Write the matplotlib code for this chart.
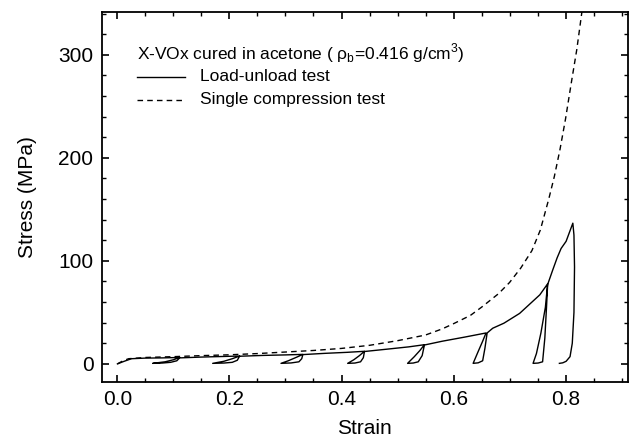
import matplotlib
matplotlib.use("Agg")
import matplotlib.pyplot as plt
from matplotlib.lines import Line2D
from matplotlib.ticker import MultipleLocator

plt.rcParams["font.family"] = ["Liberation Sans", "DejaVu Sans"]
plt.rcParams["mathtext.fontset"] = "custom"
plt.rcParams["mathtext.rm"] = "Liberation Sans"

# single compression test (dashed)
single_strain = [0.0, 0.01, 0.02, 0.05, 0.1, 0.15, 0.2, 0.25, 0.3, 0.35, 0.4, 0.45,
                 0.5, 0.55, 0.58, 0.6, 0.63, 0.65, 0.68, 0.7, 0.72, 0.74, 0.755,
                 0.77, 0.78, 0.79, 0.80, 0.81, 0.82, 0.83]
single_stress = [0.0, 3.0, 5.0, 6.2, 7.0, 8.0, 8.8, 10.0, 11.5, 13.0, 15.0, 18.0,
                 22.5, 28.0, 34.0, 39.0, 47.0, 55.0, 68.0, 79.0, 93.0, 110.0, 130.0,
                 160.0, 182.0, 208.0, 238.0, 272.0, 305.0, 345.0]

# load-unload test (solid), points in drawing order
cycle_strain = [0.0, 0.012, 0.025, 0.05, 0.08, 0.111,
                0.10, 0.085, 0.063, 0.08, 0.095, 0.106, 0.111,
                0.15, 0.19, 0.218,
                0.205, 0.19, 0.170, 0.19, 0.205, 0.214, 0.218,
                0.26, 0.30, 0.331,
                0.32, 0.305, 0.292, 0.31, 0.324, 0.329, 0.331,
                0.37, 0.41, 0.441,
                0.432, 0.422, 0.411, 0.424, 0.434, 0.439, 0.441,
                0.48, 0.52, 0.548,
                0.54, 0.53, 0.518, 0.528, 0.537, 0.544, 0.548,
                0.58, 0.62, 0.658,
                0.652, 0.644, 0.635, 0.644, 0.652, 0.656, 0.66,
                0.67, 0.69, 0.718, 0.74, 0.754, 0.768,
                0.764, 0.756, 0.748, 0.742, 0.751, 0.759, 0.763, 0.766, 0.768,
                0.777, 0.785, 0.792, 0.801, 0.813,
                0.815, 0.816, 0.815, 0.812, 0.808, 0.801, 0.795, 0.789]
cycle_stress = [0.0, 2.5, 5.0, 5.6, 5.8, 6.2,
                4.0, 2.0, 0.5, 0.8, 1.5, 3.0, 5.8,
                6.6, 7.2, 7.6,
                5.0, 2.5, 0.5, 0.8, 1.5, 3.5, 7.4,
                8.2, 8.7, 9.2,
                6.5, 3.0, 0.5, 0.9, 2.0, 5.0, 9.0,
                10.2, 11.2, 12.2,
                8.0, 4.0, 0.5, 0.8, 2.0, 6.0, 12.0,
                14.2, 16.5, 18.6,
                13.0, 7.0, 0.5, 0.8, 2.0, 8.0, 18.3,
                22.0, 26.0, 30.0,
                22.0, 12.0, 0.5, 1.0, 3.0, 15.0, 30.0,
                34.6, 39.5, 49.0, 60.0, 67.0, 77.7,
                55.0, 30.0, 10.0, 0.5, 0.8, 2.0, 25.0, 55.0, 77.0,
                91.0, 103.0, 112.0, 119.0, 136.6,
                125.0, 94.0, 50.0, 20.0, 7.0, 2.5, 1.0, 0.5]

legend_title = "X-VOx cured in acetone ( \u03c1$_\\mathrm{b}$=0.416 g/cm$^3$)"
legend_labels = ["Load-unload test", "Single compression test"]

fig = plt.figure(figsize=(6.36, 4.42), dpi=100)
ax = fig.add_axes([0.160, 0.136, 0.827, 0.837])

ax.plot(cycle_strain, cycle_stress, color="black", lw=1.0)
ax.plot(single_strain, single_stress, color="black", lw=1.0, dashes=(4, 3))

ax.set_xlim(-0.028, 0.911)
ax.set_ylim(-17.5, 341.7)
ax.xaxis.set_major_locator(MultipleLocator(0.2))
ax.xaxis.set_minor_locator(MultipleLocator(0.05))
ax.yaxis.set_major_locator(MultipleLocator(100))
ax.yaxis.set_minor_locator(MultipleLocator(20))
ax.xaxis.set_major_formatter(plt.FuncFormatter(lambda v, p: f"{v:.1f}"))
ax.tick_params(which="both", direction="in", top=True, right=True, labelsize=15)
ax.tick_params(which="major", length=5, width=1.2, pad=6)
ax.tick_params(which="minor", length=3, width=1.0)
for s in ax.spines.values():
    s.set_linewidth(1.3)

ax.set_xlabel("Strain", fontsize=15, labelpad=7)
ax.set_ylabel("Stress (MPa)", fontsize=15, labelpad=15)

# legend drawn by hand to follow the original layout
tr = ax.transAxes
ax.text(0.0665, 0.889, legend_title, transform=tr, fontsize=12.5, va="center", ha="left")
ax.add_line(Line2D([0.0665, 0.158], [0.825, 0.825], transform=tr, color="black", lw=1.0))
ax.text(0.186, 0.825, legend_labels[0], transform=tr, fontsize=12.5, va="center", ha="left")
ax.add_line(Line2D([0.0665, 0.158], [0.763, 0.763], transform=tr, color="black", lw=1.0,
                   dashes=(4, 3)))
ax.text(0.186, 0.763, legend_labels[1], transform=tr, fontsize=12.5, va="center", ha="left")

fig.savefig("out.png", dpi=100)
